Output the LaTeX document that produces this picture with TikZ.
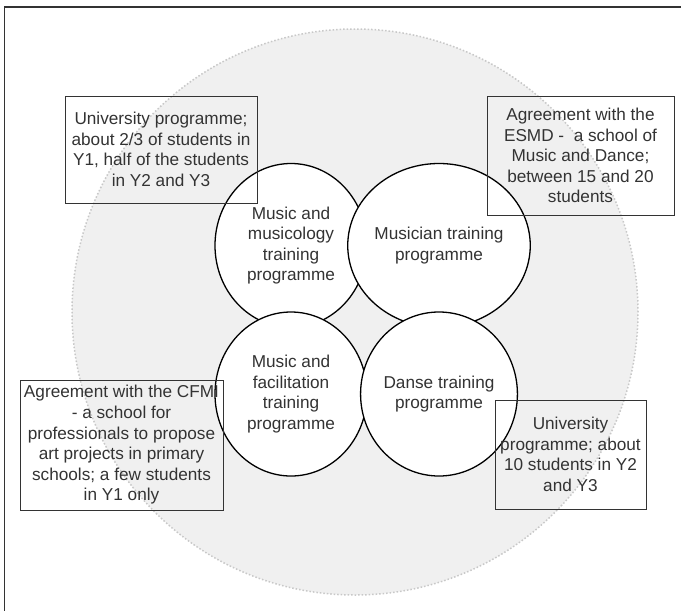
\documentclass[tikz,border=0pt]{standalone}
\usepackage{fontspec}
\setmainfont{Liberation Sans}
\usetikzlibrary{shapes.geometric}
\definecolor{inkgray}{HTML}{333333}
\definecolor{discfill}{HTML}{F0F0F0}
\definecolor{discline}{HTML}{C8C8C8}
\def\progfont{\fontsize{17.2}{20.6}\selectfont}

\begin{document}
\begin{tikzpicture}[x=1pt,y=-1pt,
    prog/.style={ellipse,draw=black,line width=1.3pt,fill=white,
      minimum width=152pt,minimum height=164pt,inner sep=0pt,
      align=center,text=inkgray,font=\progfont},
    note/.style={rectangle,draw=inkgray,line width=0.9pt,inner sep=0pt,
      align=center,text=inkgray,font=\progfont}]
    \useasboundingbox (0,0) rectangle (681,611);
    \fill[white] (0,0) rectangle (681,611);
    % frame runs off the page to the right and below
    \draw[inkgray,line width=1.2pt] (4.5,611) -- (4.5,7) -- (681,7);
    \draw[discline,fill=discfill,dotted,line width=1.5pt] (355,312) circle[radius=283pt];

    \node[prog] (musico)   at (291,245.5) {Music and\\musicology\\training\\programme};
    \node[prog] (musician) at (439,245.5) {Musician training\\programme};
    \node[prog] (facil)    at (291,394)   {Music and\\facilitation\\training\\programme};
    \node[prog] (danse)    at (439,394)   {Danse training\\programme};

    \node[note,minimum width=192pt,minimum height=107pt] (univtl) at (161,149.5)
        {University programme;\\about 2/3 of students in\\Y1, half of the students\\in Y2 and Y3};
    \node[note,minimum width=187pt,minimum height=119pt] (esmd) at (580.5,155.5)
        {Agreement with the\\ESMD -\ \ a school of\\Music and Dance;\\between 15 and 20\\students};
    \node[note,minimum width=203pt,minimum height=130pt] (cfmi) at (121.5,445)
        {Agreement with the CFMI\\- a school for\\professionals to propose\\art projects in primary\\schools; a few students\\in Y1 only};
    \node[note,minimum width=151pt,minimum height=109pt] (univbr) at (570.5,454.5)
        {University\\programme; about\\10 students in Y2\\and Y3};
\end{tikzpicture}
\end{document}
